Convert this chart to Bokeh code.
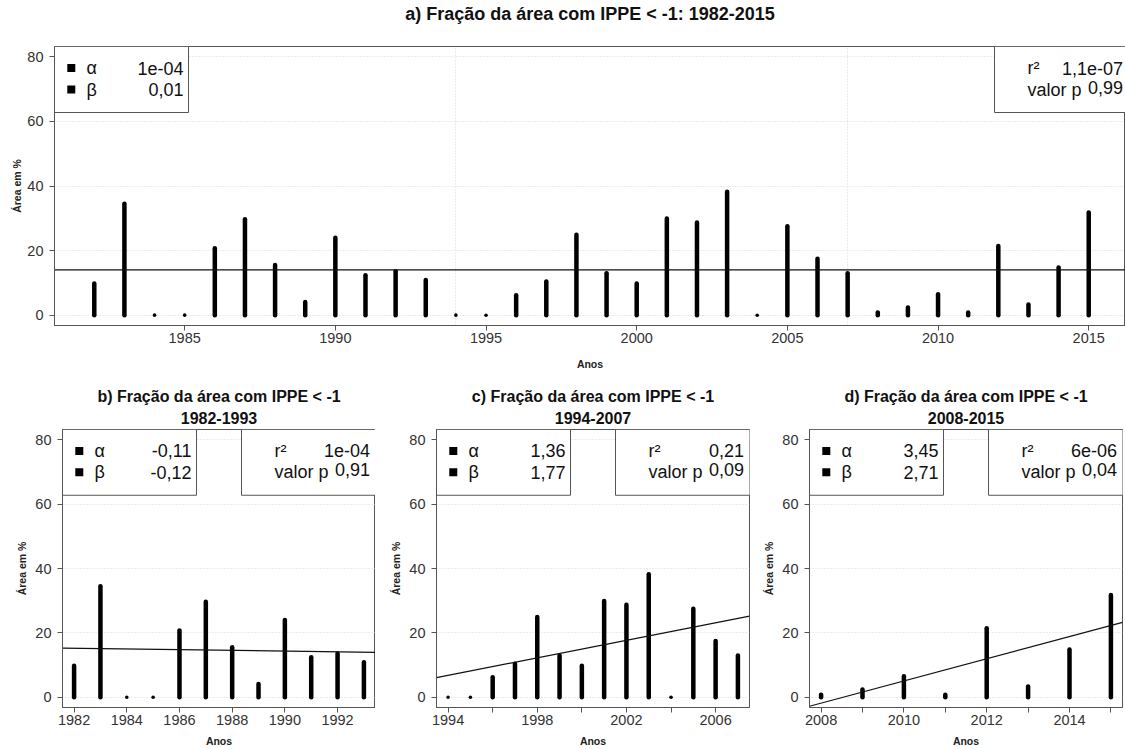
from bokeh.plotting import figure
from bokeh.layouts import column, row
from bokeh.models import Range1d, FixedTicker, Title
from bokeh.core.properties import value
from bokeh.embed import file_html
from bokeh.resources import INLINE

# Fraction of the area with IPPE < -1 (%), one value per year
years_b = list(range(1982, 1994))
area_b = [9.8, 34.5, 0.0, 0.0, 20.7, 29.7, 15.5, 4.1, 24.0, 12.4, 13.6, 10.9]

years_c = list(range(1994, 2008))
area_c = [0.0, 0.0, 6.2, 10.4, 24.9, 13.0, 9.8, 29.9, 28.7, 38.2, 0.0, 27.5, 17.5, 13.0]

years_d = list(range(2008, 2016))
area_d = [0.8, 2.4, 6.5, 0.8, 21.4, 3.3, 14.8, 31.8]

years_a = years_b + years_c + years_d
area_a = area_b + area_c + area_d

# Trend statistics per panel (a, b, c, d)
alpha_vals = [1e-04, -0.11, 1.36, 3.45]
beta_vals = [0.01, -0.12, 1.77, 2.71]
r2_txt = ["1,1e-07", "1e-04", "0,21", "6e-06"]
p_vals = [0.99, 0.91, 0.09, 0.04]

titles = [
    ["a) Fração da área com IPPE < -1: 1982-2015"],
    ["b) Fração da área com IPPE < -1", "1982-1993"],
    ["c) Fração da área com IPPE < -1", "1994-2007"],
    ["d) Fração da área com IPPE < -1", "2008-2015"],
]

y_ticks = [0, 20, 40, 60, 80]
x_ticks_a = [1985, 1990, 1995, 2000, 2005, 2010, 2015]
x_ticks_b = [1982, 1984, 1986, 1988, 1990, 1992]
x_ticks_c = [1994, 1996, 1998, 2000, 2002, 2004, 2006]
x_labels_c = [1994, 1998, 2002, 2006]
x_ticks_d = [2008, 2009, 2010, 2011, 2012, 2013, 2014, 2015]
x_labels_d = [2008, 2010, 2012, 2014]

FONT = "Liberation Sans"
FRAME_H = 279


def fmt(v):
    if v != 0 and abs(v) < 0.005:
        s = f"{v:.0e}"
    else:
        s = f"{v:.2f}"
    return s.replace(".", ",")


def padded(lo, hi):
    pad = 0.04 * (hi - lo)
    return lo - pad, hi + pad


def title_obj(text, size, standoff, valign="bottom"):
    return Title(text=text, align="center", text_font=FONT, text_font_size=size,
                 text_font_style="bold", text_color="#111111",
                 standoff=standoff, vertical_align=valign)


def panel(idx, years, vals, width, height, bl, br, bt, bb, xticks, xlabels,
          crop_right=0, vgrid=None, xlab_standoff=7, ylab_standoff=4):
    fw = width - bl - br
    x0, x1 = padded(years[0], years[-1])
    if crop_right:
        x1 = x0 + (x1 - x0) * fw / (fw + crop_right)
    y0, y1 = padded(0, 80)

    p = figure(width=width, height=height, x_range=Range1d(x0, x1),
               y_range=Range1d(y0, y1), output_backend="svg",
               toolbar_location=None, title=None)
    p.min_border_left = bl
    p.min_border_right = br
    p.min_border_top = bt
    p.min_border_bottom = bb
    p.background_fill_color = "white"
    p.border_fill_color = "white"
    p.outline_line_color = "#555555"
    p.outline_line_width = 1

    lines = titles[idx]
    if len(lines) == 1:
        # blank spacer keeps the single-line title high above the frame
        p.add_layout(title_obj(" ", "18px", 1), "above")
        p.add_layout(title_obj(lines[0], "18px", 0), "above")
    else:
        # the first title added sits closest to the frame
        p.add_layout(title_obj(lines[1], "16px", 11), "above")
        p.add_layout(title_obj(lines[0], "16px", 0), "above")

    # axes
    for ax in (p.xaxis[0], p.yaxis[0]):
        ax.axis_line_color = "#555555"
        ax.major_tick_line_color = "#555555"
        ax.major_tick_out = 5
        ax.major_tick_in = 0
        ax.minor_tick_line_color = None
        ax.major_label_text_font = FONT
        ax.major_label_text_font_size = "14.5px"
        ax.major_label_text_color = "#333333"
        ax.axis_label_text_font = FONT
        ax.axis_label_text_font_size = "10.5px"
        ax.axis_label_text_font_style = "bold"
        ax.axis_label_text_color = "#222222"
    p.xaxis.ticker = FixedTicker(ticks=xticks)
    p.xaxis.major_label_overrides = {t: "" for t in xticks if t not in xlabels}
    p.xaxis.major_label_standoff = 2
    p.xaxis.axis_label = "Anos"
    p.xaxis.axis_label_standoff = xlab_standoff
    p.yaxis.ticker = FixedTicker(ticks=y_ticks)
    p.yaxis.major_label_standoff = 6
    p.yaxis.axis_label = "Área em %"
    p.yaxis.axis_label_standoff = ylab_standoff

    # grid
    p.ygrid.ticker = FixedTicker(ticks=y_ticks)
    p.ygrid.grid_line_color = "#d8d8d8"
    p.ygrid.grid_line_dash = "1 2"
    if vgrid:
        p.xgrid.ticker = FixedTicker(ticks=vgrid)
        p.xgrid.grid_line_color = "#d8d8d8"
        p.xgrid.grid_line_dash = "1 2"
    else:
        p.xgrid.grid_line_color = None

    # yearly fractions: a thick stem from 0 to the value, a dot for zero years
    sx = [y for y, v in zip(years, vals) if v > 0]
    sv = [v for v in vals if v > 0]
    p.segment(x0=sx, y0=[0] * len(sx), x1=sx, y1=sv, line_width=4.5,
              line_cap="round", line_color="black")
    zx = [y for y, v in zip(years, vals) if v == 0]
    p.scatter(x=zx, y=[0] * len(zx), size=3.6, marker="circle",
              fill_color="black", line_color=None)

    # linear trend (slope alpha) through the mean point
    a = alpha_vals[idx]
    xm = sum(years) / len(years)
    ym = sum(vals) / len(vals)
    p.line(x=[x0, x1], y=[ym + a * (x0 - xm), ym + a * (x1 - xm)],
           line_color="#111111", line_width=1.2)

    # legend boxes (sizes in pixels, converted to data units)
    def fx(px):
        return x0 + px * (x1 - x0) / fw

    def fy(py):
        return y1 - py * (y1 - y0) / FRAME_H

    box_w, box_h = 134, 66
    rows = [fy(21.5), fy(43)]
    rb_left = fw + crop_right - box_w
    p.quad(left=[fx(0), fx(rb_left)], right=[fx(box_w), fx(fw + 2)],
           top=[y1, y1], bottom=[fy(box_h), fy(box_h)],
           fill_color="white", line_color="#555555", line_width=1)
    p.scatter(x=[fx(16.8)] * 2, y=rows, marker="square", size=8,
              fill_color="black", line_color=None)
    txt = dict(text_font=value(FONT), text_font_size="18px",
               text_baseline="middle", text_color="#111111")
    p.text(x=[fx(32)] * 2, y=rows, text=["α", "β"], text_align="left", **txt)
    p.text(x=[fx(129)] * 2, y=rows,
           text=[fmt(alpha_vals[idx]), fmt(beta_vals[idx])],
           text_align="right", **txt)
    p.text(x=[fx(rb_left + 33)] * 2, y=rows, text=["r²", "valor p"],
           text_align="left", **txt)
    vr = fx(fw + crop_right - 5.5)
    p.text(x=[vr], y=[rows[0]], text=[r2_txt[idx]], text_align="right", **txt)
    p.text(x=[vr], y=[rows[1]], text=[fmt(p_vals[idx])], text_align="right",
           y_offset=-2.5, **txt)
    return p


p_a = panel(0, years_a, area_a, 1125, 375, 54, 0, 46, 50, x_ticks_a, x_ticks_a,
            crop_right=3, vgrid=[1994, 2007], xlab_standoff=12, ylab_standoff=1)
p_b = panel(1, years_b, area_b, 375, 374, 62, 0, 54, 41, x_ticks_b, x_ticks_b)
p_c = panel(2, years_c, area_c, 375, 374, 61, 1, 54, 41, x_ticks_c, x_labels_c)
p_d = panel(3, years_d, area_d, 375, 374, 59, 3, 54, 41, x_ticks_d, x_labels_d)

layout = column(p_a, row(p_b, p_c, p_d, spacing=0), spacing=0)

with open("out.html", "w") as f:
    f.write(file_html(layout, INLINE))
